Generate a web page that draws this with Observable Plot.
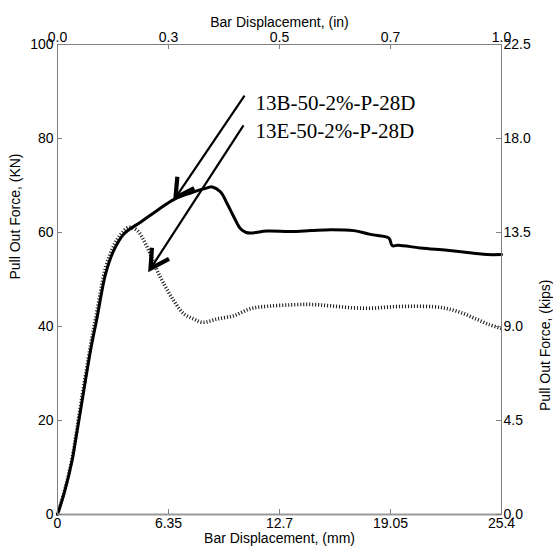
<!DOCTYPE html>
<html><head><meta charset="utf-8">
<script src="https://cdn.jsdelivr.net/npm/d3@7"></script>
<script src="https://cdn.jsdelivr.net/npm/@observablehq/plot@0.6"></script>
<style>body{margin:0;background:#fff}</style>
</head><body><div id="chart"></div>
<script>
// Series 13B (solid): displacement (mm), force (kN)
const dispB = [0,0.4,0.84,1.03,1.4,1.89,2.27,2.75,3.22,3.8,4.75,5.7,6.65,7.61,8.56,8.85,9.33,9.71,10.09,10.47,10.8,11.04,12.0,13.33,14.5,15.62,16.95,17.9,18.86,19.0,19.15,19.5,20.77,22.29,23.82,24.58,25.4];
const forceB = [0,4.8,11.6,15.7,24,34.9,42.0,51.2,56.2,59.7,62.2,64.7,67.0,68.4,69.5,69.7,68.6,66.1,63.3,60.8,60.0,59.9,60.3,60.2,60.4,60.6,60.4,59.6,59.0,58.6,57.2,57.3,56.7,56.2,55.6,55.3,55.3];
// Series 13E (dotted)
const dispE = [0,0.4,0.84,1.03,1.4,1.89,2.27,2.75,3.22,3.6,4.08,4.56,5.13,5.61,6.08,6.65,7.23,7.8,8.28,9.14,10.09,11.04,12.0,13.33,14.5,15.6,16.8,18.0,19.2,20.4,21.5,22.3,23.2,24.0,24.7,25.4];
const forceE = [0,5,12,16.3,25,36,43.5,52.5,57.2,59.5,61.1,60.4,56.9,52.6,49.1,45.5,42.7,41.6,40.9,41.6,42.3,43.8,44.3,44.6,44.7,44.4,44.0,43.9,44.2,44.3,44.2,43.8,42.8,41.5,40.4,39.6];
const seriesNames = ["13B-50-2%-P-28D", "13E-50-2%-P-28D"];
// annotation anchors (data units)
const labelX = [11.33, 11.33];
const labelY = [87.4, 81.6];
const arrowFromX = [10.7, 10.64], arrowFromY = [89.1, 82.8];
const arrowToX = [6.75, 5.32], arrowToY = [67.4, 52.3];
// ticks
const mmTicks = [0, 6.35, 12.7, 19.05, 25.4];
const mmLabels = ["0", "6.35", "12.7", "19.05", "25.4"];
const inLabels = ["0.0", "0.3", "0.5", "0.7", "1.0"];
const kNTicks = [0, 20, 40, 60, 80, 100];
const kNLabels = ["0", "20", "40", "60", "80", "100"];
const kipLabels = ["0.0", "4.5", "9.0", "13.5", "18.0", "22.5"];

const W = 553, H = 555, mL = 57, mR = 52, mT = 44, mB = 41;
const pw = W - mL - mR, ph = H - mT - mB;
const xMax = 25.4, yMax = 100;

const dataB = dispB.map((d, i) => ({d, f: forceB[i]}));
const dataE = dispE.map((d, i) => ({d, f: forceE[i]}));
const ann = seriesNames.map((name, i) => {
  // on-screen direction from the arrow tip back toward its tail (degrees clockwise from up)
  const dxp = (arrowFromX[i] - arrowToX[i]) * pw / xMax;
  const dyp = -(arrowFromY[i] - arrowToY[i]) * ph / yMax;
  const rot = Math.atan2(dxp, -dyp) * 180 / Math.PI;
  return {name, x: labelX[i], y: labelY[i], x1: arrowFromX[i], y1: arrowFromY[i], x2: arrowToX[i], y2: arrowToY[i], rot};
});

// open "V" arrow head, tip at the anchor, opening toward the tail (local up)
const headShape = {
  draw(context, l) {
    const w = 21, a = 29 * Math.PI / 180;
    context.moveTo(-w * Math.sin(a), -w * Math.cos(a));
    context.lineTo(0, 0);
    context.lineTo(w * Math.sin(a), -w * Math.cos(a));
  }
};

const axisColor = "#808080";
const sans = "'Liberation Sans', Arial, sans-serif";

const chart = Plot.plot({
  width: W, height: H,
  marginLeft: mL, marginRight: mR, marginTop: mT, marginBottom: mB,
  style: {fontFamily: sans, fontSize: "14px", background: "#fff", color: "#000", overflow: "visible"},
  x: {domain: [0, xMax]},
  y: {domain: [0, yMax]},
  marks: [
    Plot.line(dataE, {x: "d", y: "f", stroke: "#222", strokeWidth: 3.6, strokeDasharray: "1.1,1.9", strokeLinecap: "butt", curve: "catmull-rom"}),
    Plot.line(dataB, {x: "d", y: "f", stroke: "#000", strokeWidth: 3, curve: "catmull-rom"}),
    Plot.frame({stroke: axisColor}),
    Plot.ruleY([0], {stroke: "#9a9a9a", strokeWidth: 2}),
    Plot.tickX(mmTicks, {x: d => d, insetTop: ph - 5, stroke: axisColor}),
    Plot.tickX(mmTicks, {x: d => d, insetBottom: ph - 5, stroke: axisColor}),
    Plot.tickY(kNTicks, {y: d => d, insetRight: pw - 5, stroke: axisColor}),
    Plot.tickY(kNTicks, {y: d => d, insetLeft: pw - 5, stroke: axisColor}),
    Plot.axisX(mmTicks, {anchor: "bottom", tickSize: 0, tickPadding: 4, tickFormat: d => mmLabels[mmTicks.indexOf(d)], label: null, fill: "#000"}),
    Plot.axisX(mmTicks, {anchor: "top", tickSize: 0, tickPadding: 3, tickFormat: d => inLabels[mmTicks.indexOf(d)], label: null, fill: "#000"}),
    Plot.axisY(kNTicks, {anchor: "left", tickSize: 0, tickPadding: 4, tickFormat: d => kNLabels[kNTicks.indexOf(d)], label: null, fill: "#000"}),
    Plot.axisY(kNTicks, {anchor: "right", tickSize: 0, tickPadding: 2, tickFormat: d => kipLabels[kNTicks.indexOf(d)], label: null, fill: "#000"}),
    Plot.text(["Bar Displacement, (mm)"], {frameAnchor: "bottom", dy: 28, fill: "#000", fontSize: 14}),
    Plot.text(["Bar Displacement, (in)"], {frameAnchor: "top", dy: -27, fill: "#000", fontSize: 14}),
    Plot.text(["Pull Out Force, (KN)"], {frameAnchor: "left", dx: -42, rotate: -90, fill: "#000", fontSize: 14}),
    Plot.text(["Pull Out Force, (kips)"], {frameAnchor: "right", dx: 44, rotate: -90, fill: "#000", fontSize: 14}),
    Plot.link(ann, {x1: "x1", y1: "y1", x2: "x2", y2: "y2", stroke: "#000", strokeWidth: 2.2}),
    Plot.vector(ann, {x: "x2", y: "y2", rotate: "rot", length: 20, anchor: "start", shape: headShape, stroke: "#000", strokeWidth: 4.2, strokeLinejoin: "miter", strokeLinecap: "butt"}),
    Plot.text(ann, {x: "x", y: "y", text: "name", textAnchor: "start", fontFamily: "'Liberation Serif', 'Times New Roman', serif", fontSize: 21, fill: "#000"})
  ]
});
document.getElementById("chart").appendChild(chart);
</script>
</body></html>
